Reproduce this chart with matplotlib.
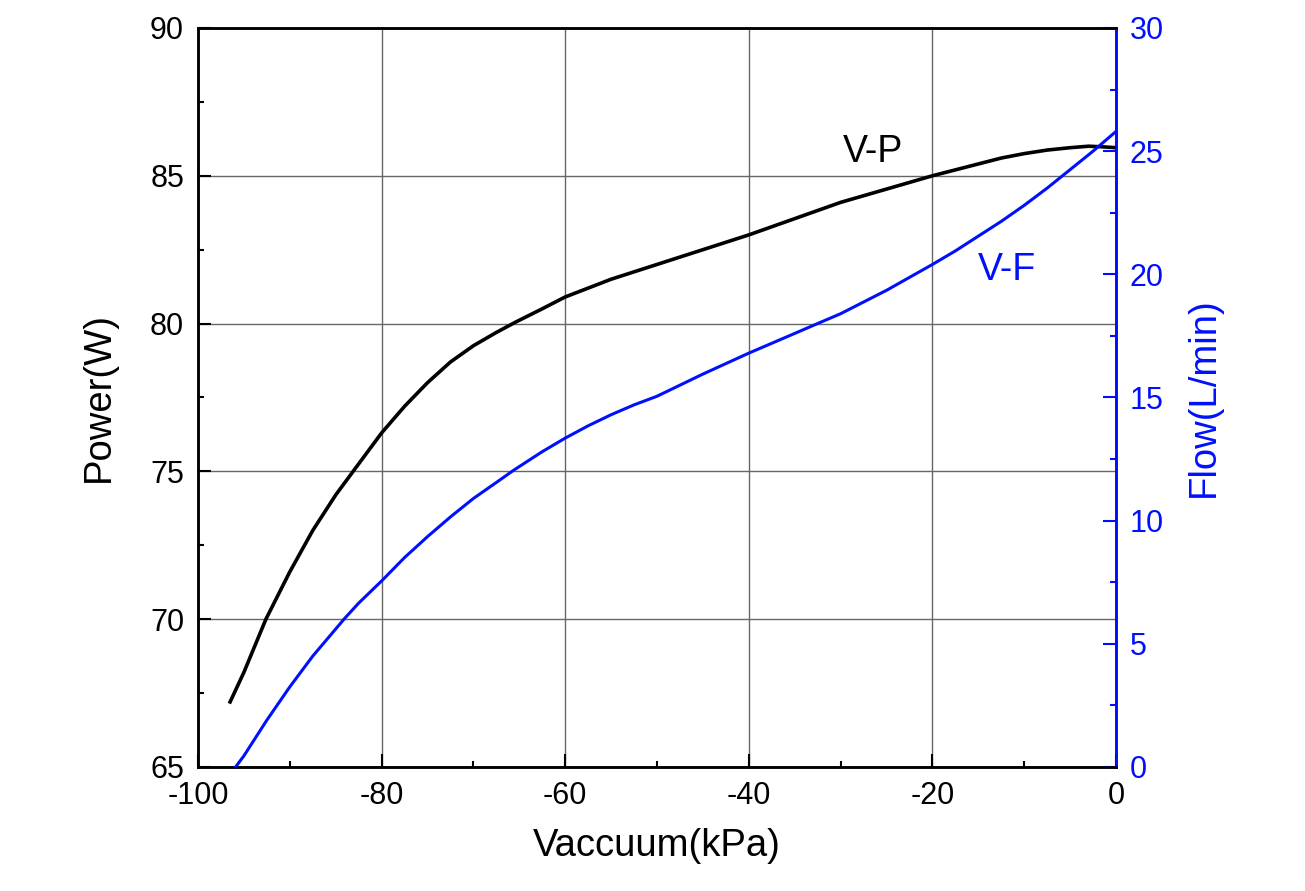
import matplotlib.pyplot as plt
from matplotlib.ticker import MultipleLocator

plt.rcParams['font.family'] = ['Liberation Sans', 'DejaVu Sans']
plt.rcParams['axes.unicode_minus'] = False

# V-P curve (vacuum kPa -> power W)
vac_p = [-96.5, -95, -92.6, -90, -87.5, -85, -83.1, -80, -77.5, -75, -72.5, -70,
         -67.5, -65.4, -62.5, -60, -57.5, -55, -52.5, -50, -45, -40, -35, -30,
         -25, -20, -17.5, -15, -12.5, -10, -7.5, -5, -3, -1.5, 0]
power = [67.2, 68.2, 70.0, 71.6, 73.0, 74.2, 75.0, 76.3, 77.2, 78.0, 78.7, 79.25,
         79.7, 80.05, 80.5, 80.9, 81.2, 81.5, 81.75, 82.0, 82.5, 83.0, 83.55, 84.1,
         84.55, 85.0, 85.2, 85.4, 85.6, 85.75, 85.87, 85.95, 86.0, 85.98, 85.95]

# V-F curve (vacuum kPa -> flow L/min)
vac_f = [-95.9, -95, -92.5, -90, -87.5, -85, -84, -82.5, -80, -77.5, -75, -72.5,
         -70, -67.5, -65.6, -62.5, -60, -57.5, -55, -52.5, -50, -45, -40, -35,
         -32.2, -30, -25, -20, -17.5, -15, -12.5, -10, -7.5, -5, -2.5, 0]
flow = [0.0, 0.45, 1.9, 3.25, 4.5, 5.6, 6.04, 6.65, 7.55, 8.5, 9.35, 10.15,
        10.9, 11.55, 12.05, 12.8, 13.35, 13.85, 14.3, 14.7, 15.05, 15.95, 16.8, 17.6,
        18.05, 18.4, 19.35, 20.4, 20.95, 21.55, 22.15, 22.8, 23.5, 24.25, 25.0, 25.8]

BLUE = '#0010ff'

fig = plt.figure(figsize=(13.05, 8.91), dpi=100)
ax = fig.add_axes([0.1517, 0.1392, 0.7035, 0.8294])
ax2 = ax.twinx()

ax.plot(vac_p, power, color='black', lw=2.6, zorder=3)
ax2.plot(vac_f, flow, color=BLUE, lw=2.2, zorder=3)

ax.set_xlim(-100, 0)
ax.set_ylim(65, 90)
ax2.set_ylim(0, 30)

ax.xaxis.set_major_locator(MultipleLocator(20))
ax.xaxis.set_minor_locator(MultipleLocator(10))
ax.yaxis.set_major_locator(MultipleLocator(5))
ax.yaxis.set_minor_locator(MultipleLocator(2.5))
ax2.yaxis.set_major_locator(MultipleLocator(5))
ax2.yaxis.set_minor_locator(MultipleLocator(2.5))

ax.grid(True, which='major', color='#666666', lw=1.0)
ax.set_axisbelow(True)

ax.tick_params(axis='both', which='major', direction='in', length=9.5, width=1.5,
               labelsize=22, pad=10)
ax.tick_params(axis='both', which='minor', direction='in', length=4.5, width=1.5)
ax.tick_params(axis='x', top=False)
ax2.tick_params(axis='y', which='major', direction='in', length=9.5, width=1.5,
                labelsize=22, pad=10, colors=BLUE)
ax2.tick_params(axis='y', which='minor', direction='in', length=4.5, width=1.5,
                colors=BLUE)

for s in ax.spines.values():
    s.set_linewidth(1.8)
for s in ax2.spines.values():
    s.set_linewidth(1.8)
ax2.spines['right'].set_color(BLUE)

ax.set_xlabel('Vaccuum(kPa)', fontsize=27.5, labelpad=12)
ax.set_ylabel('Power(W)', fontsize=27.5, labelpad=24)
ax2.set_ylabel('Flow(L/min)', fontsize=27.5, color=BLUE, labelpad=16)

ax.text(-29.8, 85.47, 'V-P', fontsize=27, color='black', ha='left', va='baseline')
ax.text(-15.05, 81.49, 'V-F', fontsize=27, color=BLUE, ha='left', va='baseline')

fig.savefig('out.png', dpi=100)
